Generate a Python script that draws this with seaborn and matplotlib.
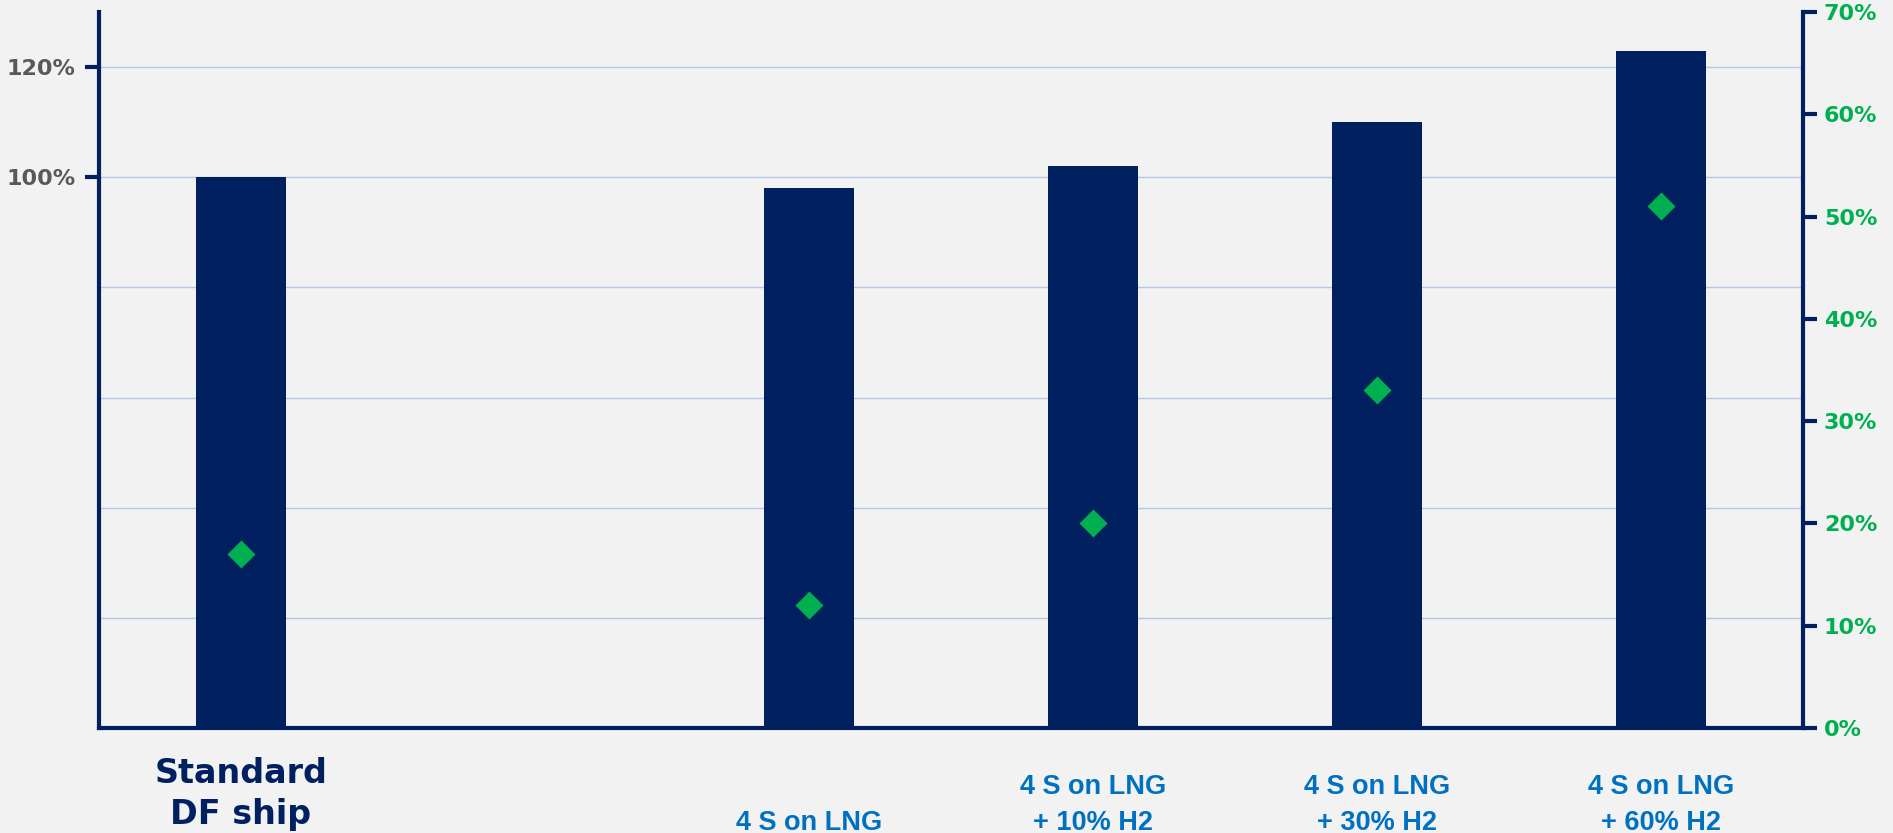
import matplotlib
matplotlib.use("Agg")
import matplotlib.pyplot as plt
import matplotlib.transforms as mtransforms
import numpy as np
import pandas as pd
import seaborn as sns

# ---- data ----
categories = ["Standard\nDF ship", " ", "4 S on LNG", "4 S on LNG\n+ 10% H2",
              "4 S on LNG\n+ 30% H2", "4 S on LNG\n+ 60% H2"]
bar_values = [100, np.nan, 98, 102, 110, 123]          # left axis, %
diamond_values = [17, np.nan, 12, 20, 33, 51]          # right axis, %
left_ticks = [100, 120]
left_ticklabels = ["100%", "120%"]
grid_levels = [20, 40, 60, 80]
right_ticks = [0, 10, 20, 30, 40, 50, 60, 70]
right_ticklabels = ["0%", "10%", "20%", "30%", "40%", "50%", "60%", "70%"]

BG = "#F2F2F2"
NAVY = "#002060"
GREEN = "#00B050"
BLUE = "#0070C0"
GRAY = "#595959"
GRID = "#B4C7E7"

sns.set_theme(style="white")
plt.rcParams["font.family"] = ["DejaVu Sans"]

df = pd.DataFrame({"cat": categories, "bar": bar_values, "dia": diamond_values})

fig = plt.figure(figsize=(18.93, 8.33), dpi=100, facecolor=BG)
ax = fig.add_axes([99/1893, 1-728/833, (1803-99)/1893, (728-12)/833])
ax.set_facecolor(BG)

sns.barplot(data=df, x="cat", y="bar", order=categories, color=NAVY,
            saturation=1, width=0.315, ax=ax, zorder=3, errorbar=None,
            linewidth=0)
ax.set_xlim(-0.5, len(categories) - 0.5)
ax.set_ylim(0, 130)

# grid
ax.set_yticks(left_ticks)
ax.set_yticklabels(left_ticklabels)
ax.set_yticks(grid_levels, minor=True)
ax.grid(axis="y", which="both", color=GRID, linewidth=1.0, zorder=0)
ax.set_axisbelow(True)
ax.tick_params(axis="y", which="major", left=True, length=10, width=3,
               color=NAVY, pad=7, labelsize=16, labelcolor=GRAY)
ax.tick_params(axis="y", which="minor", left=False, length=0)
for lbl in ax.get_yticklabels():
    lbl.set_fontweight("bold")
ax.set_xlabel("")
ax.set_ylabel("")
ax.set_xticks(range(len(categories)))
ax.set_xticklabels([""] * len(categories))
ax.tick_params(axis="x", length=0)

for s in ["top", "right"]:
    ax.spines[s].set_visible(False)
for s in ["left", "bottom"]:
    ax.spines[s].set_color(NAVY)
    ax.spines[s].set_linewidth(3)

# right axis with diamonds
ax2 = ax.twinx()
sns.pointplot(data=df, x="cat", y="dia", order=categories, color=GREEN,
              markers="D", linestyles="none", errorbar=None, ax=ax2,
              markersize=12, zorder=5)
ax2.set_xlim(-0.5, len(categories) - 0.5)
ax2.set_ylim(0, 70)
ax2.set_yticks(right_ticks)
ax2.set_yticklabels(right_ticklabels)
ax2.tick_params(axis="y", right=True, length=10, width=3, color=NAVY, pad=5,
                labelsize=16, labelcolor=GREEN)
for lbl in ax2.get_yticklabels():
    lbl.set_fontweight("bold")
ax2.set_ylabel("")
ax2.set_xlabel("")
ax2.grid(False)
for s in ["top", "left", "bottom"]:
    ax2.spines[s].set_visible(False)
ax2.spines["right"].set_color(NAVY)
ax2.spines["right"].set_linewidth(3)

# category labels
trans = mtransforms.blended_transform_factory(ax.transData, fig.transFigure)
for i, name in enumerate(categories):
    if i == 0:
        ax.text(i, 1 - 757/833, name, transform=trans, ha="center", va="top",
                fontsize=24, fontweight="bold", color=NAVY, linespacing=1.3,
                family=["DejaVu Sans"])
    elif name.strip():
        ax.text(i, -0.004, name, transform=trans, ha="center", va="bottom",
                fontsize=19.5, fontweight="bold", color=BLUE, linespacing=1.5,
                family=["Liberation Sans Narrow", "Liberation Sans", "DejaVu Sans"])

fig.savefig("out.png", dpi=100, facecolor=BG)
